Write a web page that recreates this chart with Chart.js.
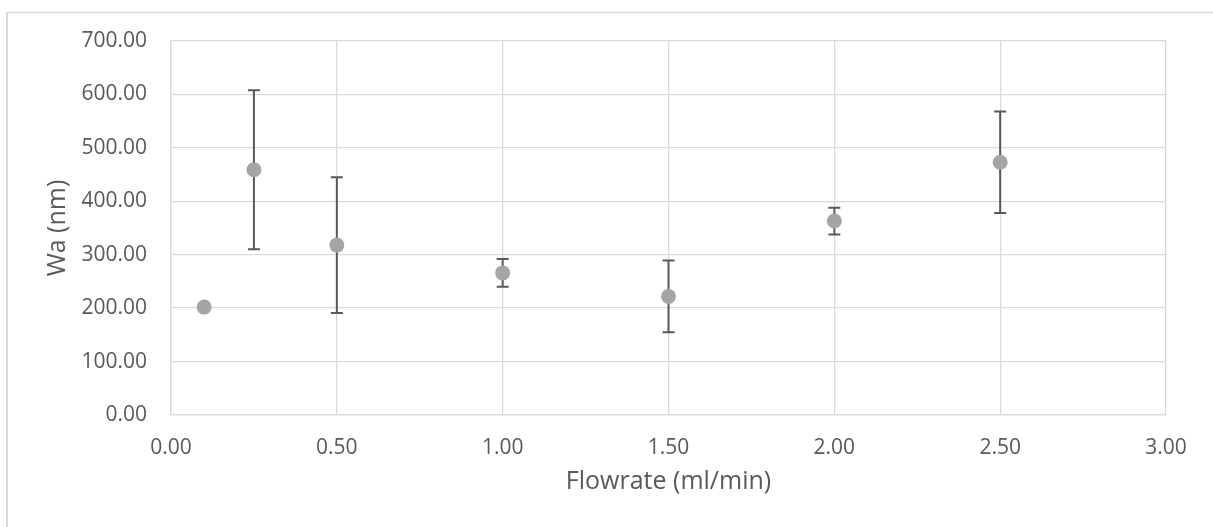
<!DOCTYPE html>
<html>
<head>
<meta charset="utf-8">
<script src="https://cdn.jsdelivr.net/npm/chart.js@4/dist/chart.umd.min.js"></script>
<style>
  html, body { margin: 0; padding: 0; background: #ffffff; }
  #wrap { width: 1213px; height: 527px; position: relative; }
</style>
</head>
<body>
<div id="wrap"><canvas id="chart" width="1213" height="527"></canvas></div>
<script>
// Flowrate (ml/min) against mean Wa (nm) with ± error
const flowrate = [0.1, 0.25, 0.5, 1.0, 1.5, 2.0, 2.5];
const waMean   = [202, 459, 318, 266, 222, 363, 473];
const waError  = [0, 149, 127, 26, 67, 25, 95];

const xTicks = [0, 0.5, 1.0, 1.5, 2.0, 2.5, 3.0];
const yTicks = [0, 100, 200, 300, 400, 500, 600, 700];

const FONT = "'Open Sans', 'DejaVu Sans', sans-serif";
const GRID = '#d9d9d9';
const TEXT = '#595959';

const points = flowrate.map((x, i) => ({ x: x, y: waMean[i] }));

// Vertical error bars with caps, drawn under the markers
const errorBars = {
  id: 'errorBars',
  beforeDatasetsDraw(chart) {
    const { ctx, scales: { x, y } } = chart;
    ctx.save();
    ctx.strokeStyle = '#595959';
    ctx.lineWidth = 2;
    const cap = 6;
    flowrate.forEach((fx, i) => {
      const e = waError[i];
      if (!e) return;
      const px = x.getPixelForValue(fx);
      const top = y.getPixelForValue(waMean[i] + e);
      const bot = y.getPixelForValue(waMean[i] - e);
      ctx.beginPath();
      ctx.moveTo(px, top); ctx.lineTo(px, bot);
      ctx.moveTo(px - cap, top); ctx.lineTo(px + cap, top);
      ctx.moveTo(px - cap, bot); ctx.lineTo(px + cap, bot);
      ctx.stroke();
    });
    ctx.restore();
  }
};

// White page with the chart frame along the top and left
const frame = {
  id: 'frame',
  beforeDraw(chart) {
    const { ctx, width, height } = chart;
    ctx.save();
    ctx.fillStyle = '#ffffff';
    ctx.fillRect(0, 0, width, height);
    ctx.strokeStyle = GRID;
    ctx.lineWidth = 2;
    ctx.beginPath();
    ctx.moveTo(7, height + 2);
    ctx.lineTo(7, 12.5);
    ctx.stroke();
    ctx.lineWidth = 1.3;
    ctx.beginPath();
    ctx.moveTo(6, 12.5);
    ctx.lineTo(width + 2, 12.5);
    ctx.stroke();
    ctx.restore();
  }
};

new Chart(document.getElementById('chart'), {
  type: 'scatter',
  data: {
    datasets: [{
      label: 'Wa',
      data: points,
      backgroundColor: '#a5a5a5',
      borderWidth: 0,
      pointRadius: 7.5,
      pointHoverRadius: 7.5
    }]
  },
  options: {
    responsive: false,
    animation: false,
    devicePixelRatio: 1,
    layout: { padding: { left: 39, right: 47, top: 41, bottom: 26 } },
    plugins: {
      legend: { display: false },
      tooltip: { enabled: false }
    },
    scales: {
      x: {
        type: 'linear',
        min: 0,
        max: 3,
        afterBuildTicks(scale) { scale.ticks = xTicks.map(v => ({ value: v })); },
        afterFit(scale) { scale.height = 86; },
        grid: { color: GRID, lineWidth: 1.3, drawTicks: false },
        border: { color: GRID, width: 1.3 },
        ticks: {
          color: TEXT,
          padding: 20,
          maxRotation: 0,
          font: { family: FONT, size: 21 },
          callback: v => Number(v).toFixed(2)
        },
        title: {
          display: true,
          text: 'Flowrate (ml/min)',
          color: TEXT,
          font: { family: FONT, size: 25 },
          padding: { top: 4, bottom: 4 }
        }
      },
      y: {
        type: 'linear',
        min: 0,
        max: 700,
        afterBuildTicks(scale) { scale.ticks = yTicks.map(v => ({ value: v })); },
        afterFit(scale) { scale.width = 132; },
        grid: { color: GRID, lineWidth: 1.3, drawTicks: false },
        border: { color: GRID, width: 1.3 },
        ticks: {
          color: TEXT,
          padding: 24,
          font: { family: FONT, size: 21 },
          callback: v => Number(v).toFixed(2)
        },
        title: {
          display: true,
          text: 'Wa (nm)',
          color: TEXT,
          font: { family: FONT, size: 25 },
          padding: { top: 4, bottom: 4 }
        }
      }
    }
  },
  plugins: [frame, errorBars]
});
</script>
</body>
</html>
